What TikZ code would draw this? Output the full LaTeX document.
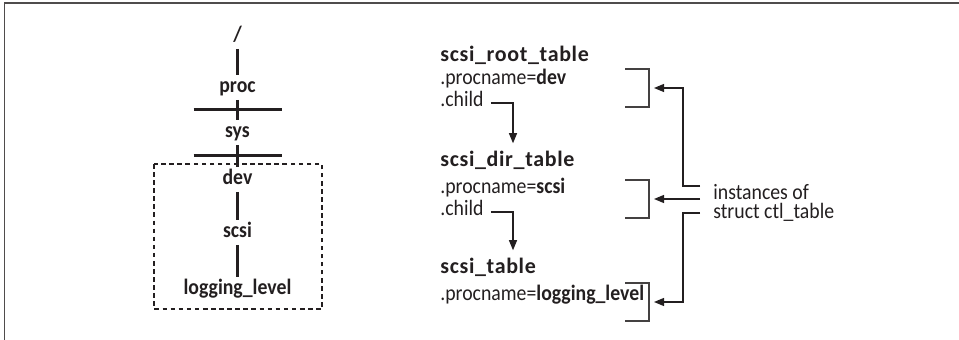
\documentclass[tikz,border=0pt]{standalone}
\usepackage{fontspec}
\setmainfont{Carlito}[FakeStretch=0.9]
\newfontfamily\titlefont{Carlito}[LetterSpace=3]
\usepackage{xcolor}
\usetikzlibrary{arrows.meta,calc}
\definecolor{ink}{HTML}{231F20}

\begin{document}
\begin{tikzpicture}[
    x=0.02cm, y=-0.02cm,    % one unit = one pixel, y runs down
    font=\fontsize{12.5}{11}\selectfont,
    color=ink,
    treenode/.style={anchor=base, inner xsep=1pt, inner ysep=1.2pt,
        text height=9pt, text depth=2.5pt, font=\fontsize{12.5}{14}\selectfont\bfseries},
    treeline/.style={line width=1.8pt},
    field/.style={anchor=base west, inner sep=0pt},
    title/.style={field, font=\fontsize{12.5}{14}\titlefont\bfseries},
    bracket/.style={line width=0.65pt, draw=ink!85},
    ptr/.style={line width=0.65pt, -{Triangle[length=0.2cm,width=0.16cm]}},
  ]
  \useasboundingbox (0,0) rectangle (959,340);
  \draw[line width=0.8pt, ink!80] (4.5,340) |- (959,3);    % frame

  % path tree
  \node[treenode] (root) at (237.5,42) {/};
  \node[treenode] (proc) at (237.5,93) {proc};
  \node[treenode] (sys)  at (237.5,138) {sys};
  \node[treenode] (dev)  at (237.5,185) {dev};
  \node[treenode] (scsi) at (237.5,238) {scsi};
  \node[treenode] (ll)   at (237.5,295) {logging\_level};
  \draw[treeline] (root) -- (proc);
  \draw[treeline] (proc) -- (sys);
  \draw[treeline] (sys) -- (dev);
  \draw[treeline] (dev) -- (scsi);
  \draw[treeline] (scsi) -- (ll);
  \draw[treeline] ($(proc.south)!.5!(sys.north)$) +(-44,0) -- +(44,0);
  \draw[treeline] ($(sys.south)!.5!(dev.north)$) +(-44,0) -- +(44,0);
  \draw[line width=0.6pt, dash pattern=on 2.6pt off 2pt] (154,164) rectangle (322,309);

  % tables
  \node[title] (rt)  at (440,62)  {scsi\_root\_table};
  \node[field] (rtp) at (440,85)  {.procname=\textbf{dev}};
  \node[field] (rtc) at (440,107) {.child};
  \node[title] (dt)  at (440,167) {scsi\_dir\_table};
  \node[field] (dtp) at (440,194) {.procname=\textbf{scsi}};
  \node[field] (dtc) at (440,216) {.child};
  \node[title] (tt)  at (440,274) {scsi\_table};
  \node[field] (ttp) at (440,301) {.procname=\textbf{logging\_level}};

  \draw[ptr] ([xshift=4pt,yshift=-2pt]rtc.east) -| ($(dt.north west)+(73,-8)$);
  \draw[ptr] ([xshift=4pt,yshift=-2pt]dtc.east) -| ($(tt.north west)+(73,-8)$);

  \draw[bracket] (625,69)  -| (649,107) -- (625,107);
  \draw[bracket] (625,180) -| (649,218) -- (625,218);
  \draw[bracket] (625,283) -| (649,321) -- (625,321);
  \coordinate (b1) at (654,88);
  \coordinate (b2) at (654,199);
  \coordinate (b3) at (654,302);

  \node[anchor=west, align=left, inner sep=0pt] (inst) at (713,203)
    {instances of\\struct ctl\_table};
  \draw[ptr] ($(inst.west)+(-13,-17)$) -- ++(-17,0) |- (b1);
  \draw[ptr] ($(inst.west)+(-13,-4)$) -- (b2);
  \draw[ptr] ($(inst.west)+(-13,10)$) -- ++(-17,0) |- (b3);
\end{tikzpicture}
\end{document}
